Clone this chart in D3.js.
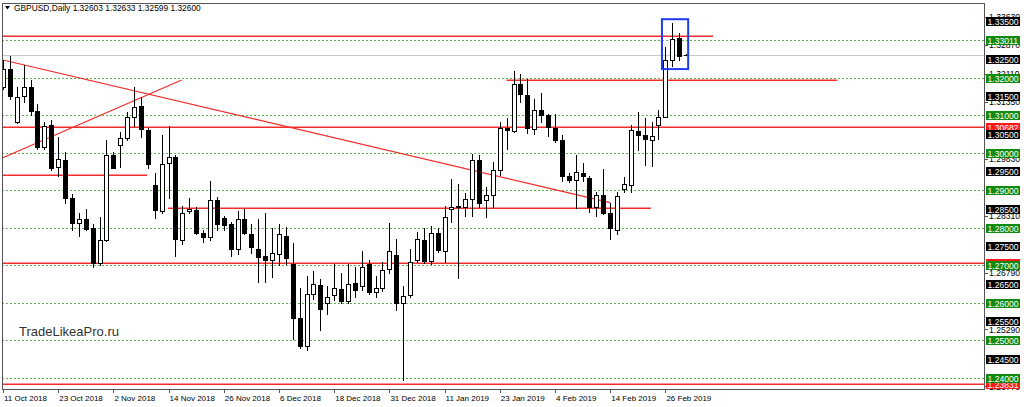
<!DOCTYPE html>
<html><head><meta charset="utf-8">
<script src="https://cdn.jsdelivr.net/npm/d3@7"></script>
<style>
body{margin:0;background:#fff;}
svg{display:block;font-family:"Liberation Sans",Arial,sans-serif;}
</style>
</head><body>
<svg id="c" width="1024" height="407"></svg>
<script>
// ---------- DATA ----------
const symbolTitle = "GBPUSD,Daily";
const lastOHLC = ["1.32603", "1.32633", "1.32599", "1.32600"];
const watermark = "TradeLikeaPro.ru";

const dates = [
 "2018-10-11","2018-10-12","2018-10-15","2018-10-16","2018-10-17","2018-10-18","2018-10-19","2018-10-22","2018-10-23","2018-10-24",
 "2018-10-25","2018-10-26","2018-10-29","2018-10-30","2018-10-31","2018-11-01","2018-11-02","2018-11-05","2018-11-06","2018-11-07",
 "2018-11-08","2018-11-09","2018-11-12","2018-11-13","2018-11-14","2018-11-15","2018-11-16","2018-11-19","2018-11-20","2018-11-21",
 "2018-11-22","2018-11-23","2018-11-26","2018-11-27","2018-11-28","2018-11-29","2018-11-30","2018-12-03","2018-12-04","2018-12-05",
 "2018-12-06","2018-12-07","2018-12-10","2018-12-11","2018-12-12","2018-12-13","2018-12-14","2018-12-17","2018-12-18","2018-12-19",
 "2018-12-20","2018-12-21","2018-12-24","2018-12-26","2018-12-27","2018-12-28","2018-12-31","2019-01-02","2019-01-03","2019-01-04",
 "2019-01-07","2019-01-08","2019-01-09","2019-01-10","2019-01-11","2019-01-14","2019-01-15","2019-01-16","2019-01-17","2019-01-18",
 "2019-01-21","2019-01-22","2019-01-23","2019-01-24","2019-01-25","2019-01-28","2019-01-29","2019-01-30","2019-01-31","2019-02-01",
 "2019-02-04","2019-02-05","2019-02-06","2019-02-07","2019-02-08","2019-02-11","2019-02-12","2019-02-13","2019-02-14","2019-02-15",
 "2019-02-18","2019-02-19","2019-02-20","2019-02-21","2019-02-22","2019-02-25","2019-02-26","2019-02-27","2019-02-28","2019-03-01"
];
const open = [
 1.3176,1.3224,1.3082,1.3151,1.3176,1.3112,1.3016,1.3073,1.2962,1.2980,
 1.2880,1.2813,1.2822,1.2798,1.2706,1.2767,1.2995,1.3020,1.3038,1.3096,
 1.3124,1.3060,1.2915,1.2845,1.2973,1.2989,1.2768,1.2845,1.2847,1.2786,
 1.2774,1.2875,1.2826,1.2809,1.2744,1.2824,1.2784,1.2744,1.2724,1.2713,
 1.2731,1.2778,1.2702,1.2558,1.2484,1.2624,1.2647,1.2600,1.2620,1.2636,
 1.2605,1.2653,1.2644,1.2704,1.2629,1.2638,1.2691,1.2727,1.2600,1.2620,
 1.2713,1.2768,1.2711,1.2786,1.2738,1.2851,1.2858,1.2855,1.2877,1.2980,
 1.2873,1.2886,1.2953,1.3066,1.3058,1.3182,1.3153,1.3064,1.3113,1.3100,
 1.3067,1.3033,1.2938,1.2928,1.2946,1.2933,1.2855,1.2888,1.2840,1.2795,
 1.2904,1.2915,1.3058,1.3046,1.3035,1.3073,1.3096,1.3247,1.3305,1.32603
];
const high = [
 1.3247,1.3257,1.3176,1.3233,1.3193,1.3131,1.3082,1.3088,1.3042,1.3002,
 1.2891,1.2840,1.2851,1.2811,1.2829,1.3033,1.3002,1.3056,1.3109,1.3174,
 1.3149,1.3067,1.2946,1.3047,1.3071,1.2993,1.2857,1.2878,1.2856,1.2793,
 1.2925,1.2882,1.2831,1.2816,1.2845,1.2851,1.2809,1.2824,1.2838,1.2798,
 1.2811,1.2802,1.2760,1.2638,1.2671,1.2685,1.2664,1.2644,1.2703,1.2678,
 1.2704,1.2694,1.2738,1.2713,1.2672,1.2709,1.2813,1.2771,1.2644,1.2744,
 1.2789,1.2798,1.2804,1.2798,1.2858,1.2931,1.2916,1.2892,1.2997,1.2993,
 1.2908,1.2975,1.3082,1.3093,1.3218,1.3209,1.3197,1.3144,1.3159,1.3104,
 1.3102,1.3046,1.2946,1.2993,1.2972,1.2937,1.2895,1.2957,1.2866,1.2895,
 1.2935,1.3073,1.3108,1.3093,1.3082,1.3115,1.3281,1.3347,1.3318,1.32633
];
const low = [
 1.3171,1.3144,1.3080,1.3136,1.3100,1.3011,1.3011,1.2955,1.2937,1.2866,
 1.2795,1.2777,1.2793,1.2696,1.2700,1.2764,1.2958,1.2962,1.3035,1.3071,
 1.3042,1.2958,1.2826,1.2840,1.2880,1.2724,1.2756,1.2838,1.2784,1.2762,
 1.2768,1.2793,1.2795,1.2724,1.2731,1.2783,1.2733,1.2656,1.2656,1.2669,
 1.2700,1.2704,1.2504,1.2478,1.2473,1.2609,1.2527,1.2569,1.2607,1.2600,
 1.2600,1.2614,1.2633,1.2624,1.2614,1.2631,1.2680,1.2580,1.2393,1.2616,
 1.2709,1.2707,1.2704,1.2736,1.2708,1.2815,1.2667,1.2830,1.2830,1.2855,
 1.2828,1.2855,1.2940,1.3011,1.3055,1.3135,1.3052,1.3051,1.3082,1.3044,
 1.3028,1.2924,1.2922,1.2852,1.2924,1.2842,1.2830,1.2836,1.2771,1.2782,
 1.2895,1.2895,1.3008,1.2966,1.2964,1.3037,1.3094,1.3230,1.3247,1.32599
];
const close = [
 1.3224,1.3151,1.3149,1.3176,1.3112,1.3016,1.3071,1.2960,1.2982,1.2880,
 1.2813,1.2822,1.2797,1.2706,1.2767,1.2993,1.2960,1.3038,1.3096,1.3122,
 1.3062,1.2969,1.2847,1.2971,1.2989,1.2771,1.2838,1.2851,1.2786,1.2774,
 1.2875,1.2811,1.2808,1.2744,1.2824,1.2786,1.2749,1.2722,1.2713,1.2733,
 1.2782,1.2720,1.2558,1.2484,1.2624,1.2649,1.2582,1.2614,1.2638,1.2605,
 1.2651,1.2635,1.2696,1.2629,1.2638,1.2687,1.2738,1.2600,1.2618,1.2709,
 1.2771,1.2711,1.2786,1.2740,1.2829,1.2856,1.2856,1.2877,1.2981,1.2866,
 1.2888,1.2953,1.3067,1.3060,1.3184,1.3156,1.3066,1.3113,1.3101,1.3068,
 1.3033,1.2937,1.2928,1.2948,1.2937,1.2855,1.2888,1.2839,1.2799,1.2884,
 1.2917,1.3060,1.3046,1.3037,1.3044,1.3095,1.3248,1.3303,1.3259,1.32600
];

const tickDates = ["2018-10-11","2018-10-23","2018-11-02","2018-11-14","2018-11-26","2018-12-06","2018-12-18","2018-12-31","2019-01-11","2019-01-23","2019-02-04","2019-02-14","2019-02-26"];
const tickLabels = ["11 Oct 2018","23 Oct 2018","2 Nov 2018","14 Nov 2018","26 Nov 2018","6 Dec 2018","18 Dec 2018","31 Dec 2018","11 Jan 2019","23 Jan 2019","4 Feb 2019","14 Feb 2019","26 Feb 2019"];

// price levels
const greenLevels = [1.33011,1.32,1.31,1.30,1.29,1.28,1.27,1.26,1.25,1.24];
const blackLevels = [1.335,1.325,1.315,1.305,1.295,1.285,1.275,1.265,1.255,1.245];
const scaleLabels = [1.3363,1.3287,1.3211,1.3135,1.2983,1.2831,1.2679,1.2529,1.2377];
const redFullLevels = [1.30682,1.2705,1.23831];
const bidPrice = 1.32600;
// red horizontal segments (price, from bar, to bar)
const segPrice = [1.33115,1.3193,1.2941,1.28533];
const segFrom  = [-2,73.0,-2,23.9];
const segTo    = [102.9,120.9,20.9,93.9];
// trend lines (bar, price) -> (bar, price)
const trendFrom = [[0,1.32472],[-0.2,1.29851]];
const trendTo   = [[88,1.28667],[25.9,1.31939]];
// highlight box
const boxBars = [95.5,99.3];
const boxPrices = [1.3356,1.3223];

// ---------- CHART ----------
const svg = d3.select("#c");
const L = 2, R = 985, T = 3, B = 389;
const x = d3.scaleLinear().domain([0, 142.32]).range([3, 985]);
const y = d3.scaleLinear().domain([1.23699, 1.33992]).range([B, T]);
const idx = d => dates.indexOf(d);
const px = v => Math.round(v) + 0.5;
const RED = "#f22c2c";

svg.append("defs").append("clipPath").attr("id","plot")
  .append("rect").attr("x",L).attr("y",T).attr("width",R-L).attr("height",B-T);

const plot = svg.append("g").attr("clip-path","url(#plot)");

// green dashed grid levels
plot.selectAll("line.g").data(greenLevels).join("line")
  .attr("x1",L).attr("x2",R).attr("y1",d=>px(y(d))).attr("y2",d=>px(y(d)))
  .attr("stroke","#5cb84c").attr("stroke-width",1).attr("stroke-dasharray","2,2")
  .attr("shape-rendering","crispEdges");

// bid line
plot.append("line").attr("x1",L).attr("x2",R).attr("y1",px(y(bidPrice))).attr("y2",px(y(bidPrice)))
  .attr("stroke","#c8c8c8").attr("stroke-width",1).attr("shape-rendering","crispEdges");

// red full lines
plot.selectAll("line.rf").data(redFullLevels).join("line")
  .attr("x1",L).attr("x2",R).attr("y1",d=>Math.round(y(d))+0.25).attr("y2",d=>Math.round(y(d))+0.25)
  .attr("stroke",RED).attr("stroke-width",1.5);

// red segments
plot.selectAll("line.rs").data(segPrice).join("line")
  .attr("x1",(d,i)=>x(segFrom[i])).attr("x2",(d,i)=>x(segTo[i]))
  .attr("y1",d=>Math.round(y(d))+0.25).attr("y2",d=>Math.round(y(d))+0.25)
  .attr("stroke",RED).attr("stroke-width",1.5);

// trend lines
plot.selectAll("line.tr").data(trendFrom).join("line")
  .attr("x1",d=>x(d[0])).attr("y1",d=>y(d[1]))
  .attr("x2",(d,i)=>x(trendTo[i][0])).attr("y2",(d,i)=>y(trendTo[i][1]))
  .attr("stroke",RED).attr("stroke-width",1.2);

// candles
const bars = d3.range(dates.length);
const cg = plot.append("g").attr("shape-rendering","crispEdges");
cg.selectAll("line.w").data(bars).join("line")
  .attr("x1",i=>px(x(i))).attr("x2",i=>px(x(i)))
  .attr("y1",i=>Math.round(y(high[i]))).attr("y2",i=>Math.round(y(low[i]))+1)
  .attr("stroke","#000");
cg.selectAll("rect.b").data(bars).join("rect")
  .attr("x",i=>Math.round(x(i))-2+0.5)
  .attr("width",4)
  .attr("y",i=>Math.round(y(Math.max(open[i],close[i])))+0.5)
  .attr("height",i=>Math.max(0.01,Math.round(y(Math.min(open[i],close[i])))-Math.round(y(Math.max(open[i],close[i])))))
  .attr("fill",i=>close[i]>=open[i]?"#fff":"#000")
  .attr("stroke","#000");

// highlight box
plot.append("rect")
  .attr("x",x(boxBars[0])).attr("y",y(boxPrices[0]))
  .attr("width",x(boxBars[1])-x(boxBars[0])).attr("height",y(boxPrices[1])-y(boxPrices[0]))
  .attr("fill","none").attr("stroke","#1f3cf0").attr("stroke-width",2);

// watermark
svg.append("text").attr("x",19).attr("y",336).attr("font-size",13).attr("fill","#333").text(watermark);

// frame
svg.append("rect").attr("x",L+0.5).attr("y",T+0.5).attr("width",R-L-1).attr("height",B-T)
  .attr("fill","none").attr("stroke","#555").attr("shape-rendering","crispEdges");

// title
const tg = svg.append("g");
tg.append("path").attr("d","M5,6 L10,6 L7.5,9.5 Z").attr("fill","#000");
tg.append("text").attr("x",14).attr("y",10.5).attr("font-size",8.4).attr("fill","#000")
  .text(symbolTitle + "  " + lastOHLC.join(" "));

// bottom axis
const ax = svg.append("g").attr("shape-rendering","crispEdges");
ax.selectAll("line").data(tickDates).join("line")
  .attr("x1",d=>px(x(idx(d)))).attr("x2",d=>px(x(idx(d)))).attr("y1",B).attr("y2",B+4).attr("stroke","#555");
svg.selectAll("text.xl").data(tickLabels).join("text")
  .attr("x",(d,i)=>x(idx(tickDates[i]))+1).attr("y",401).attr("font-size",8).attr("fill","#000").text(d=>d);

// right price scale
const fmt = d3.format(".5f");
const rg = svg.append("g");
rg.selectAll("line.st").data(scaleLabels).join("line")
  .attr("x1",R).attr("x2",R+3).attr("y1",d=>px(y(d))).attr("y2",d=>px(y(d))).attr("stroke","#555");
rg.selectAll("text.sl").data(scaleLabels).join("text")
  .attr("x",R+4).attr("y",d=>y(d)+3.2).attr("font-size",8.6).attr("fill","#000").text(d=>fmt(d));

function boxes(levels, color) {
  const g = rg.append("g");
  g.selectAll("rect").data(levels).join("rect")
    .attr("x",R+1).attr("y",d=>Math.round(y(d))-4).attr("width",34).attr("height",9).attr("fill",color);
  g.selectAll("text").data(levels).join("text")
    .attr("x",R+2.5).attr("y",d=>Math.round(y(d))+3.5).attr("font-size",8.6).attr("fill","#fff").text(d=>fmt(d));
}
boxes(redFullLevels, "#ff1a1a");
boxes(blackLevels, "#000");
boxes(greenLevels, "#108a10");
</script>
</body></html>
